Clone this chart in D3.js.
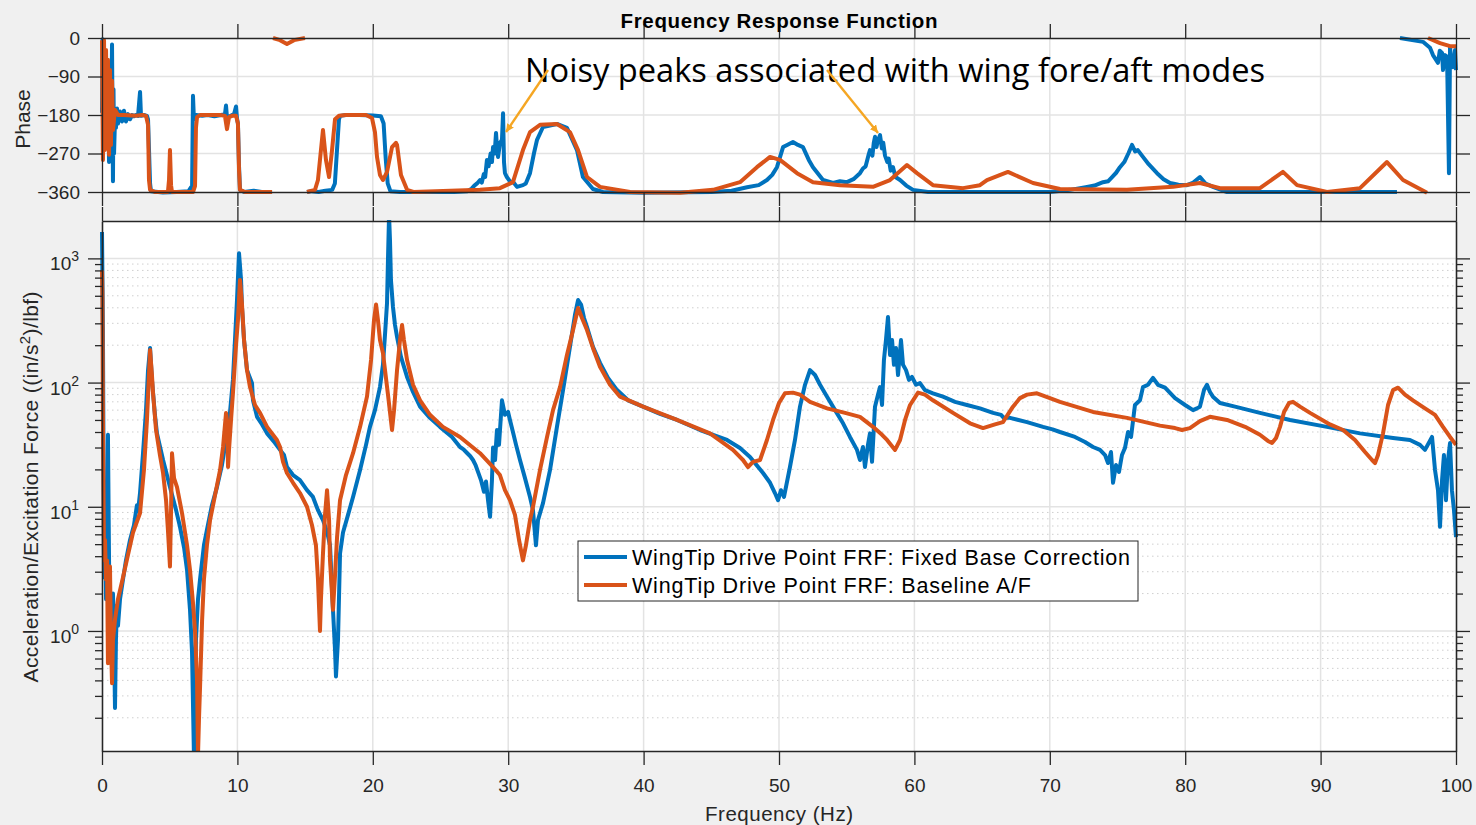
<!DOCTYPE html>
<html>
<head>
<meta charset="utf-8">
<script src="https://cdn.jsdelivr.net/npm/d3@7"></script>
<style>
body{margin:0;background:#f0f0f0;}
text{font-family:"Liberation Sans",Arial,sans-serif;}
</style>
</head>
<body>
<svg width="1476" height="825"></svg>
<script>
// tick values
var xTicks = [0,10,20,30,40,50,60,70,80,90,100];
var phaseTicks = [-360,-270,-180,-90,0];
var magDecades = [1,10,100,1000];
var magExp = ["0","1","2","3"];
var legendLabels = ["WingTip Drive Point FRF: Fixed Base Correction","WingTip Drive Point FRF: Baseline A/F"];

// magnitude, [Hz, (in/s^2)/lbf]
var blueMag = [[0,1630],[0.07,265],[0.15,2.7],[0.22,7.8],[0.30,1.8],[0.37,3.7],[0.44,38],[0.52,3.7],[0.59,0.85],[0.66,1.8],[0.74,0.5],[0.81,2.0],[0.89,0.85],[0.96,0.24],[1.03,0.85],[1.11,1.6],[1.18,1.1],[1.33,1.8],[1.55,2.6],[1.77,3.7],[2.07,5.4],[2.36,7.1],[2.58,10.3],[2.66,9.2],[2.81,13],[3.03,27],[3.25,60],[3.40,126],[3.55,190],[3.69,105],[3.91,55],[4.06,39],[4.51,23.8],[5.02,14.4],[5.47,9.4],[5.76,6.9],[6.06,4.7],[6.28,3.1],[6.50,1.48],[6.65,0.67],[6.79,0.1],[6.94,0.85],[7.09,1.8],[7.24,2.6],[7.53,4.9],[7.75,6.5],[8.12,10.3],[8.49,14.4],[8.86,21.7],[9.16,34.5],[9.45,57],[9.67,105],[9.82,220],[9.97,462],[10.12,1100],[10.27,670],[10.34,406],[10.49,220],[10.71,126],[10.93,109],[11.08,99],[11.15,72],[11.45,53],[11.82,46],[12.19,39],[12.78,32.6],[13.15,28.7],[13.44,26.1],[13.66,20.9],[14.11,18],[14.62,16.4],[15.14,13.6],[15.58,12],[15.95,9.4],[16.32,7.8],[16.62,6.3],[16.84,4.9],[17.06,1.48],[17.21,0.70],[17.28,0.43],[17.43,0.85],[17.58,4.2],[17.80,6.2],[18.17,8.6],[18.54,12],[19.06,19.8],[19.50,31.5],[19.79,44],[20.16,60],[20.53,92],[20.75,139],[20.90,242],[21.05,437],[21.12,970],[21.20,2230],[21.27,1400],[21.34,670],[21.49,406],[21.64,291],[21.79,233],[22.08,161],[22.53,111],[22.97,84],[23.49,64],[24.22,52],[24.96,44],[25.85,36.5],[26.44,30.3],[26.7,29],[26.96,27.1],[27.2,25.5],[27.40,23.8],[27.6,21.5],[27.77,19.1],[27.99,16.4],[28.21,13.2],[28.36,16],[28.51,11.3],[28.66,8.3],[28.80,16.4],[28.88,30],[29.03,23.8],[29.17,41.5],[29.32,31.5],[29.54,72],[29.76,55],[29.99,58],[30.13,50],[30.35,40],[30.58,31.5],[30.87,23.8],[31.24,17],[31.61,12],[31.83,9.4],[32.05,4.9],[32.20,7.8],[32.57,10.7],[33.09,19.8],[33.60,44],[34.05,87],[34.56,194],[34.93,350],[35.16,462],[35.38,425],[35.60,331],[35.82,280],[36.26,194],[36.78,144],[37.37,109],[38.04,87],[38.85,72],[39.96,64],[41.21,56],[42.47,50],[44.17,41.5],[46.16,34.5],[47.12,29.7],[47.86,25.2],[48.82,18.7],[49.34,15.6],[49.70,12.9],[49.93,11.3],[50.15,13.6],[50.37,12],[50.81,20.9],[51.18,34.5],[51.55,64],[51.92,96],[52.29,126],[52.66,115],[53.03,96],[53.55,77],[54.14,60],[54.73,47],[55.24,36.5],[55.76,28.7],[55.98,23.8],[56.20,30.3],[56.35,20.9],[56.57,31.5],[56.72,39],[56.87,23],[57.09,64],[57.31,80],[57.46,92],[57.61,66],[57.75,152],[57.90,220],[58.05,337],[58.20,167],[58.35,220],[58.49,139],[58.64,190],[58.79,115],[59.01,220],[59.16,139],[59.38,126],[59.60,105],[59.82,111],[60.12,96],[60.41,99],[60.78,87],[61.37,82],[62.11,77],[63.00,70],[63.88,66],[64.84,62],[65.81,57],[66.4,55],[66.6,52],[67.06,52],[68.32,48],[69.50,44],[70.2,42],[70.75,40],[71.86,36.5],[72.60,33.2],[73.19,30.3],[73.71,28.7],[74.08,26.1],[74.30,22.5],[74.52,27.6],[74.67,15.6],[74.89,21.7],[75.11,19.1],[75.33,26.1],[75.55,29.7],[75.78,40],[76.00,36.5],[76.29,66],[76.66,72],[76.88,92],[77.25,96],[77.62,109],[77.99,96],[78.51,91],[79.25,75],[79.99,66],[80.58,60],[80.87,62],[81.09,64],[81.39,87],[81.61,96],[81.83,84],[82.05,77],[82.57,68.5],[83.68,64],[85.52,57],[87.74,50],[90.47,44],[92.91,39],[95.35,35.8],[96.60,34.5],[97.34,31.5],[97.71,28.7],[98.23,36.5],[98.45,19.8],[98.67,13.6],[98.82,6.9],[98.97,16.4],[99.11,26.1],[99.26,11.3],[99.41,23.8],[99.56,32.6],[99.70,13.6],[99.85,9.4],[100,5.7]];

var orangeMag = [[0,800],[0.03,500],[0.07,50],[0.15,3.7],[0.22,5.4],[0.30,2.6],[0.37,3.7],[0.44,0.55],[0.52,1.8],[0.59,3.3],[0.66,0.85],[0.74,0.38],[0.81,0.85],[0.96,1.23],[1.18,1.8],[1.55,2.7],[1.92,4.1],[2.29,6.2],[2.81,8.9],[3.10,19.8],[3.32,50],[3.47,115],[3.55,183],[3.69,115],[3.77,82],[3.99,41.5],[4.28,26],[4.51,18.7],[4.73,11.3],[4.87,6.5],[5.02,3.3],[5.10,9.4],[5.17,27],[5.32,17],[5.54,14.4],[5.91,8.9],[6.28,4.9],[6.50,3.1],[6.72,1.68],[6.87,1.0],[7.02,0.4],[7.09,0.1],[7.16,0.19],[7.24,0.35],[7.39,1.2],[7.53,2.6],[7.75,4.9],[7.98,7.8],[8.35,12.4],[8.72,19.8],[8.94,30.3],[9.16,57],[9.23,50],[9.31,20.9],[9.38,28.7],[9.53,50],[9.67,82],[9.90,201],[10.04,319],[10.19,670],[10.34,425],[10.49,220],[10.71,126],[10.93,92],[11.30,66],[11.67,57],[12.19,44],[12.92,34.5],[13.15,30.3],[13.37,23],[13.66,18.7],[14.11,15.6],[14.62,12.9],[15.14,10],[15.51,7.1],[15.80,4.9],[15.95,2.6],[16.10,1.0],[16.17,1.8],[16.32,4.2],[16.47,8.6],[16.62,13.6],[16.77,7.8],[16.84,3.7],[16.99,1.95],[17.06,1.48],[17.21,2.8],[17.36,5.7],[17.58,11.3],[18.02,18],[18.54,27],[19.06,44],[19.57,77],[19.87,152],[20.09,319],[20.24,425],[20.38,319],[20.53,220],[20.75,173],[21.12,80],[21.42,41.5],[21.57,60],[21.79,126],[22.01,220],[22.16,291],[22.30,220],[22.53,152],[22.97,96],[23.49,72],[24.22,55],[25.18,44],[26.44,36.5],[27.92,27],[28.88,20.9],[29.39,18],[29.76,13.6],[30.13,11.3],[30.50,8.6],[30.80,5.4],[31.09,3.7],[31.31,4.9],[31.61,7.8],[31.83,10],[32.35,19.8],[32.87,36.5],[33.31,60],[33.83,92],[34.34,167],[34.79,265],[35.16,399],[35.45,331],[35.82,265],[36.26,190],[36.78,134],[37.52,96],[38.26,77],[39.96,64],[42.47,50],[44.90,39],[46.60,28.7],[47.34,23.8],[47.71,20.9],[48.08,23],[48.60,23.8],[49.11,34.5],[49.56,50],[50.00,68.5],[50.44,82],[51.03,83],[51.55,80],[52.29,70],[53.55,62],[54.88,57],[55.98,53],[56.94,44],[57.61,38],[57.98,34.5],[58.57,28.7],[58.94,34.5],[59.31,50],[59.68,66],[60.27,83],[60.78,80],[61.37,72],[62.85,57],[64.11,47],[65.07,43],[65.95,46],[66.54,48],[67.28,64],[67.80,75],[68.32,80],[69.05,82],[70.01,75],[70.75,70],[73.19,58],[75.70,52],[78.14,45],[79.25,43],[79.76,41.5],[80.35,43],[81.09,49],[81.83,53],[83.09,50],[84.42,44],[85.52,38],[86.11,33.9],[86.41,32.6],[86.71,35.8],[87.00,44],[87.30,58],[87.67,68.5],[87.96,70],[88.48,64],[89.22,57],[90.69,46],[91.66,41.5],[92.54,34.5],[93.28,27.6],[93.80,23.8],[94.02,22.5],[94.24,26.1],[94.61,39],[94.98,66],[95.35,87],[95.72,91],[96.23,80],[96.82,72],[97.71,62],[98.45,55],[99.04,44],[99.56,36.5],[100,31.5]];

// phase, [Hz, deg], pieces separated where the phase wraps
var bluePhase1 = [[0,-175],[0.04,-3],[0.1,-170],[0.15,-40],[0.22,-200],[0.3,-60],[0.37,-250],[0.44,-100],[0.52,-290],[0.59,-150],[0.66,-230],[0.74,-15],[0.81,-335],[0.85,-120],[0.89,-270],[0.96,-190],[1.03,-210],[1.11,-165],[1.18,-200],[1.33,-172],[1.48,-195],[1.62,-170],[1.77,-195],[1.92,-178],[2.07,-190],[2.22,-180],[2.36,-183],[2.51,-180],[2.66,-182],[2.81,-126],[2.88,-182],[3.1,-180],[3.32,-182],[3.40,-190],[3.47,-260],[3.55,-340],[3.62,-358],[4.5,-361],[5.5,-360],[6.4,-358],[6.55,-350],[6.65,-360],[6.72,-135],[6.79,-190],[6.94,-180],[7.4,-182],[7.8,-180],[8.3,-183],[8.8,-180],[9.08,-178],[9.16,-158],[9.23,-185],[9.5,-182],[9.75,-178],[9.9,-160],[9.97,-188],[10.04,-200],[10.12,-300],[10.19,-355],[10.5,-360],[11.2,-357],[11.8,-360],[12.56,-360]];
var bluePhase2 = [[15.14,-360],[15.5,-358],[16,-360],[16.5,-357],[17,-355],[17.2,-340],[17.36,-260],[17.5,-190],[17.6,-182],[18,-180],[19,-180],[20,-181],[20.6,-183],[20.8,-200],[20.95,-280],[21.1,-340],[21.3,-358],[22,-360],[24,-360],[26,-360],[27,-358],[27.3,-352],[27.5,-345],[27.7,-340],[27.92,-332],[28.05,-338],[28.2,-318],[28.3,-325],[28.43,-285],[28.55,-300],[28.7,-270],[28.8,-290],[28.88,-255],[29.0,-270],[29.10,-222],[29.18,-260],[29.25,-278],[29.4,-245],[29.54,-238],[29.62,-176],[29.69,-290],[29.76,-316],[29.9,-325],[30.13,-335],[30.4,-338],[30.65,-348],[31.09,-344],[31.3,-340],[31.61,-316],[31.9,-270],[32.13,-238],[32.57,-208],[33.60,-201],[34.34,-210],[35.08,-262],[35.52,-325],[36.26,-353],[37,-360],[40,-362],[45,-360],[46.5,-357],[47.64,-349],[48.5,-344],[49.11,-332],[49.5,-320],[49.85,-302],[50.30,-255],[50.6,-250],[51.03,-243],[51.4,-250],[51.77,-255],[52.2,-285],[52.51,-302],[53.25,-332],[53.99,-339],[54.5,-335],[55.02,-337],[55.5,-330],[55.98,-316],[56.2,-305],[56.4,-300],[56.6,-275],[56.72,-262],[56.9,-275],[57.0,-245],[57.09,-231],[57.2,-255],[57.3,-240],[57.46,-227],[57.6,-258],[57.7,-245],[57.83,-275],[58.0,-290],[58.1,-282],[58.25,-310],[58.42,-302],[58.6,-325],[58.94,-332],[59.4,-345],[59.90,-355],[61,-360],[65,-360],[70,-360],[71.5,-355],[72.75,-348],[73.3,-345],[73.93,-337],[74.3,-335],[74.6,-325],[74.9,-315],[75.18,-302],[75.5,-290],[75.8,-270],[76.07,-250],[76.3,-265],[76.5,-262],[76.88,-278],[77.3,-295],[77.92,-316],[78.4,-330],[78.88,-339],[79.5,-343],[80.13,-344],[80.6,-338],[81.09,-325],[81.5,-340],[82.05,-348],[83.09,-360],[90,-360],[95.64,-360]];
var bluePhase3 = [[95.86,0],[97.56,-9],[98.08,-23],[98.3,-40],[98.67,-58],[98.8,-30],[98.97,-35],[99.04,-75],[99.2,-40],[99.34,-44],[99.48,-316],[99.56,-21],[99.63,-50],[99.78,-68],[99.93,-28],[100,-75]];
var orangePhase1 = [[0,-5],[0.07,-285],[0.15,-5],[0.22,-262],[0.30,-28],[0.37,-238],[0.44,-51],[0.52,-273],[0.59,-75],[0.66,-250],[0.74,-100],[0.81,-215],[0.96,-168],[1.18,-180],[1.62,-180],[2.5,-182],[3.0,-180],[3.25,-182],[3.40,-203],[3.47,-332],[3.55,-355],[3.91,-360],[4.87,-360],[4.95,-332],[5.02,-262],[5.10,-344],[5.17,-360],[6.72,-360],[6.87,-346],[6.94,-210],[7.02,-185],[7.24,-180],[8.72,-180],[9.08,-182],[9.23,-213],[9.38,-185],[9.60,-182],[9.90,-182],[10.04,-200],[10.12,-309],[10.19,-355],[10.56,-360],[12.56,-360]];
var orangePhase2 = [[12.63,0],[13.15,-5],[13.66,-14],[14.18,-5],[14.99,0]];
var orangePhase3 = [[15.14,-360],[15.73,-355],[15.95,-332],[16.17,-262],[16.32,-215],[16.54,-285],[16.77,-325],[16.99,-262],[17.21,-190],[17.5,-182],[18,-180],[19.5,-180],[19.94,-187],[20.16,-220],[20.31,-278],[20.53,-320],[20.75,-332],[21.05,-313],[21.42,-255],[21.71,-245],[21.79,-250],[22.08,-320],[22.53,-355],[23,-360],[27.92,-355],[29.39,-351],[30.35,-337],[31.09,-262],[31.61,-220],[32.35,-203],[33.60,-201],[34.56,-220],[35.16,-262],[35.82,-325],[36.78,-348],[39,-360],[42.69,-362],[45.13,-355],[47.12,-337],[48.37,-302],[49.34,-278],[50.07,-285],[51.33,-316],[52.51,-337],[54.51,-344],[56.94,-348],[58.20,-332],[59.45,-297],[60.19,-316],[61.37,-344],[63.59,-351],[64.84,-344],[65.36,-332],[66.91,-313],[68.76,-339],[70.75,-353],[75.70,-355],[79.10,-348],[81.09,-339],[82.57,-351],[85.52,-351],[87.22,-313],[88.26,-344],[90.47,-360],[92.91,-351],[94.90,-290],[96.09,-332],[97.86,-362]];
var orangePhase4 = [[97.93,0],[98.82,-12],[99.56,-19],[100,-19]];

var blueColor = "#0072BD", orangeColor = "#D95319", axisColor = "#262626";
var svg = d3.select("svg");

var x = d3.scaleLinear().domain([0,100]).range([102,1456]);
var yP = d3.scaleLinear().domain([-360,0]).range([192,38]);
var yM = d3.scaleLog().domain([0.108,2000]).range([751,221]);

// axes backgrounds
svg.append("rect").attr("x",102).attr("y",38).attr("width",1354).attr("height",154).attr("fill","white");
svg.append("rect").attr("x",102).attr("y",221).attr("width",1354).attr("height",530).attr("fill","white");

var defs = svg.append("defs");
// matlab clips the data, not the thick stroke, so leave a few px
defs.append("clipPath").attr("id","clipTop").append("rect").attr("x",100).attr("y",35).attr("width",1358).attr("height",160);
defs.append("clipPath").attr("id","clipBot").append("rect").attr("x",100).attr("y",220).attr("width",1358).attr("height",532);
defs.append("marker").attr("id","grot").attr("viewBox","0 0 10 10").attr("refX",10).attr("refY",5)
	.attr("markerWidth",8).attr("markerHeight",8).attr("markerUnits","userSpaceOnUse").attr("orient","auto")
	.append("path").attr("d","M0,0 L10,5 L0,10 z").attr("fill","#F5A623");

// grid
var grid = svg.append("g");
xTicks.slice(1,-1).forEach(function(t){
	grid.append("line").attr("x1",x(t)).attr("x2",x(t)).attr("y1",38).attr("y2",192).attr("stroke","#e3e3e3").attr("stroke-width",1.5);
	grid.append("line").attr("x1",x(t)).attr("x2",x(t)).attr("y1",221).attr("y2",751).attr("stroke","#e3e3e3").attr("stroke-width",1.5);
});
phaseTicks.slice(1,-1).forEach(function(t){
	grid.append("line").attr("x1",102).attr("x2",1456).attr("y1",yP(t)).attr("y2",yP(t)).attr("stroke","#e3e3e3").attr("stroke-width",1.5);
});
var minorVals = [];
[0.1,1,10,100,1000].forEach(function(d){
	for(var k=2;k<10;k++){
		var v = d*k;
		if(v>0.108 && v<2000) minorVals.push(v);
	}
});
minorVals.forEach(function(v){
	grid.append("line").attr("x1",102).attr("x2",1456).attr("y1",yM(v)).attr("y2",yM(v))
		.attr("stroke","#cfcfcf").attr("stroke-width",1).attr("stroke-dasharray","1.5,3.5");
});
magDecades.forEach(function(v){
	grid.append("line").attr("x1",102).attr("x2",1456).attr("y1",yM(v)).attr("y2",yM(v)).attr("stroke","#e3e3e3").attr("stroke-width",1.5);
});

// lines
var lineP = d3.line().x(function(d){return x(d[0]);}).y(function(d){return yP(d[1]);});
var lineM = d3.line().x(function(d){return x(d[0]);}).y(function(d){return yM(d[1]);});

var gTop = svg.append("g").attr("clip-path","url(#clipTop)");
[bluePhase1,bluePhase2,bluePhase3].forEach(function(s){
	gTop.append("path").attr("d",lineP(s)).attr("fill","none").attr("stroke",blueColor).attr("stroke-width",4).attr("stroke-linejoin","round");
});
[orangePhase1,orangePhase2,orangePhase3,orangePhase4].forEach(function(s){
	gTop.append("path").attr("d",lineP(s)).attr("fill","none").attr("stroke",orangeColor).attr("stroke-width",4).attr("stroke-linejoin","round");
});

var gBot = svg.append("g").attr("clip-path","url(#clipBot)");
gBot.append("path").attr("d",lineM(blueMag)).attr("fill","none").attr("stroke",blueColor).attr("stroke-width",4).attr("stroke-linejoin","round");
gBot.append("path").attr("d",lineM(orangeMag)).attr("fill","none").attr("stroke",orangeColor).attr("stroke-width",4).attr("stroke-linejoin","round");

// axes
function styl(g){
	g.attr("color",axisColor).attr("font-size",19);
	g.selectAll(".domain").attr("stroke-width",1.3);
	g.selectAll(".tick line").attr("stroke-width",1.3);
}
svg.append("g").attr("transform","translate(0,38)").call(d3.axisTop(x).tickValues(xTicks).tickSize(14).tickSizeOuter(0).tickFormat("")).call(styl);
svg.append("g").attr("transform","translate(0,192)").call(d3.axisBottom(x).tickValues(xTicks).tickSize(14).tickSizeOuter(0).tickFormat("")).call(styl);
svg.append("g").attr("transform","translate(0,221)").call(d3.axisTop(x).tickValues(xTicks).tickSize(14).tickSizeOuter(0).tickFormat("")).call(styl);
svg.append("g").attr("transform","translate(0,751)").call(d3.axisBottom(x).tickValues(xTicks).tickSize(14).tickSizeOuter(0).tickPadding(14)).call(styl);

svg.append("g").attr("transform","translate(102,0)").call(d3.axisLeft(yP).tickValues(phaseTicks).tickSize(14).tickSizeOuter(0).tickPadding(8)).call(styl);
svg.append("g").attr("transform","translate(1456,0)").call(d3.axisRight(yP).tickValues(phaseTicks).tickSize(14).tickSizeOuter(0).tickFormat("")).call(styl);

svg.append("g").attr("transform","translate(102,0)").call(d3.axisLeft(yM).tickValues(magDecades).tickSize(14).tickSizeOuter(0).tickFormat("")).call(styl);
svg.append("g").attr("transform","translate(102,0)").call(d3.axisLeft(yM).tickValues(minorVals).tickSize(7).tickSizeOuter(0).tickFormat("")).call(styl);
svg.append("g").attr("transform","translate(1456,0)").call(d3.axisRight(yM).tickValues(magDecades).tickSize(14).tickSizeOuter(0).tickFormat("")).call(styl);
svg.append("g").attr("transform","translate(1456,0)").call(d3.axisRight(yM).tickValues(minorVals).tickSize(7).tickSizeOuter(0).tickFormat("")).call(styl);

// 10^n labels
magDecades.forEach(function(v,i){
	var t = svg.append("text").attr("x",79).attr("y",yM(v)+12).attr("text-anchor","end").attr("fill",axisColor).attr("font-size",19);
	t.append("tspan").text("10");
	t.append("tspan").attr("dy",-9).attr("font-size",14).text(magExp[i]);
});

// titles and labels
svg.append("text").attr("x",779).attr("y",28).attr("text-anchor","middle").attr("font-weight","bold")
	.attr("font-size",20.5).attr("textLength",317).attr("fill","#000").text("Frequency Response Function");
svg.append("text").attr("transform","translate(30,119) rotate(-90)").attr("text-anchor","middle")
	.attr("font-size",21).attr("fill",axisColor).text("Phase");
var yl = svg.append("text").attr("transform","translate(38,487) rotate(-90)").attr("text-anchor","middle")
	.attr("font-size",21).attr("textLength",391).attr("fill",axisColor);
yl.append("tspan").text("Acceleration/Excitation Force ((in/s");
yl.append("tspan").attr("dy",-8).attr("font-size",15).text("2");
yl.append("tspan").attr("dy",8).text(")/lbf)");
svg.append("text").attr("x",779).attr("y",821).attr("text-anchor","middle")
	.attr("font-size",20.5).attr("textLength",148).attr("fill",axisColor).text("Frequency (Hz)");

// annotation
svg.append("text").attr("x",525).attr("y",82).style("font-family","'Open Sans','Noto Sans',sans-serif")
	.attr("font-size",32).attr("textLength",740).attr("lengthAdjust","spacingAndGlyphs").attr("fill","#000")
	.text("Noisy peaks associated with wing fore/aft modes");
svg.append("line").attr("x1",548).attr("y1",70).attr("x2",506).attr("y2",132)
	.attr("stroke","#F5A623").attr("stroke-width",2.4).attr("marker-end","url(#grot)");
svg.append("line").attr("x1",827).attr("y1",70).attr("x2",878).attr("y2",133)
	.attr("stroke","#F5A623").attr("stroke-width",2.4).attr("marker-end","url(#grot)");

// legend
var legLen = [498,399];
var leg = svg.append("g");
leg.append("rect").attr("x",578).attr("y",541).attr("width",560).attr("height",60)
	.attr("fill","white").attr("stroke",axisColor).attr("stroke-width",1);
[blueColor,orangeColor].forEach(function(c,i){
	var yy = 557 + i*28;
	leg.append("line").attr("x1",584).attr("x2",627).attr("y1",yy).attr("y2",yy).attr("stroke",c).attr("stroke-width",4);
	leg.append("text").attr("x",632).attr("y",yy+8).attr("font-size",21.5).attr("textLength",legLen[i]).attr("fill","#000").text(legendLabels[i]);
});
</script>
</body>
</html>
